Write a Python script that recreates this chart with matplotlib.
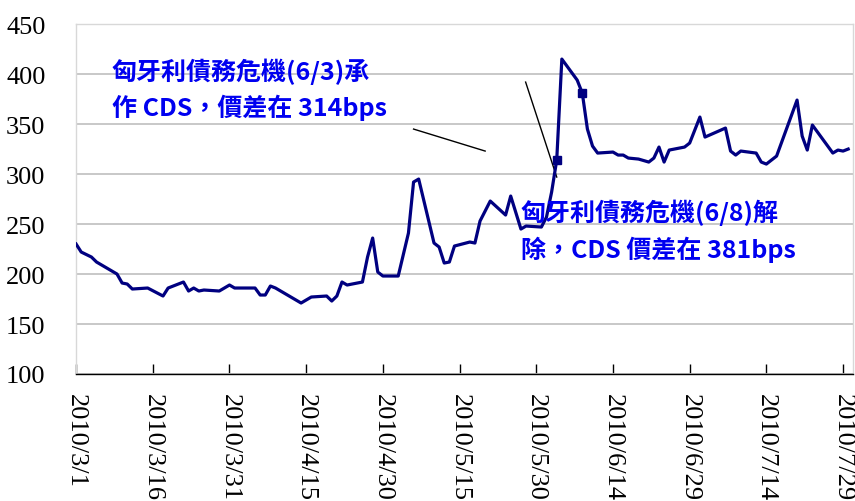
"""
Hungary CDS spread, 2010/3/1 - 2010/7/30, with two annotated crisis events.
"""

import datetime as dt

import matplotlib
matplotlib.use("Agg")
import matplotlib.pyplot as plt

LINE_COLOR = "#000080"
TEXT_COLOR = "#0000F0"
CJK_FONT = ["Noto Sans CJK TC", "DejaVu Sans"]

# vertices (date, spread in bps)
DATES = [
    "2010-03-01", "2010-03-02", "2010-03-04", "2010-03-05", "2010-03-09",
    "2010-03-10", "2010-03-11", "2010-03-12", "2010-03-15", "2010-03-18",
    "2010-03-19", "2010-03-22", "2010-03-23", "2010-03-24", "2010-03-25",
    "2010-03-26", "2010-03-29", "2010-03-31", "2010-04-01", "2010-04-05",
    "2010-04-06", "2010-04-07", "2010-04-08", "2010-04-09", "2010-04-14",
    "2010-04-16", "2010-04-19", "2010-04-20", "2010-04-21", "2010-04-22",
    "2010-04-23", "2010-04-26", "2010-04-27", "2010-04-28", "2010-04-29",
    "2010-04-30", "2010-05-03", "2010-05-05", "2010-05-06", "2010-05-07",
    "2010-05-10", "2010-05-11", "2010-05-12", "2010-05-13", "2010-05-14",
    "2010-05-17", "2010-05-18", "2010-05-19", "2010-05-21", "2010-05-24",
    "2010-05-25", "2010-05-27", "2010-05-28", "2010-05-31", "2010-06-01",
    "2010-06-02", "2010-06-03", "2010-06-04", "2010-06-07", "2010-06-08",
    "2010-06-09", "2010-06-10", "2010-06-11", "2010-06-14", "2010-06-15",
    "2010-06-16", "2010-06-17", "2010-06-19", "2010-06-21", "2010-06-22",
    "2010-06-23", "2010-06-24", "2010-06-25", "2010-06-28", "2010-06-29",
    "2010-07-01", "2010-07-02", "2010-07-06", "2010-07-07", "2010-07-08",
    "2010-07-09", "2010-07-12", "2010-07-13", "2010-07-14", "2010-07-16",
    "2010-07-20", "2010-07-21", "2010-07-22", "2010-07-23", "2010-07-27",
    "2010-07-28", "2010-07-29", "2010-07-30",
]
SPREAD = [
    230, 222, 217, 212, 200,
    191, 190, 185, 186, 178,
    186, 192, 183, 186, 183,
    184, 183, 189, 186, 186,
    179, 179, 188, 186, 171,
    177, 178, 173, 178, 192,
    189, 192, 217, 236, 202,
    198, 198, 241, 292, 295,
    231, 227, 211, 212, 228,
    232, 231, 253, 273, 259,
    278, 245, 248, 247, 257,
    282, 314, 415, 394, 381,
    345, 328, 321, 322, 319,
    319, 316, 315, 312, 316,
    327, 312, 324, 327, 331,
    357, 337, 346, 323, 319,
    323, 321, 312, 310, 318,
    374, 338, 324, 349, 321,
    324, 323, 325,
]

MARKED_DATES = ["2010-06-03", "2010-06-08"]
MARKED_SPREAD = [314, 381]

TICK_DATES = [
    "2010-03-01", "2010-03-16", "2010-03-31", "2010-04-15", "2010-04-30",
    "2010-05-15", "2010-05-30", "2010-06-14", "2010-06-29", "2010-07-14",
    "2010-07-29",
]
TICK_LABELS = [
    "2010/3/1", "2010/3/16", "2010/3/31", "2010/4/15", "2010/4/30",
    "2010/5/15", "2010/5/30", "2010/6/14", "2010/6/29", "2010/7/14",
    "2010/7/29",
]
Y_TICKS = [100, 150, 200, 250, 300, 350, 400, 450]

NOTE_1 = ["匈牙利債務危機(6/3)承", "作 CDS，價差在 314bps"]
NOTE_2 = ["匈牙利債務危機(6/8)解", "除，CDS 價差在 381bps"]


def d(s):
    return dt.datetime.strptime(s, "%Y-%m-%d")


def main():
    fig = plt.figure(figsize=(8.55, 5.02), dpi=100)
    ax = fig.add_axes([0.089, 0.253, 0.909, 0.697])

    x = [d(s) for s in DATES]
    ax.plot(x, SPREAD, color=LINE_COLOR, linewidth=2.3, zorder=3)
    ax.plot([d(s) for s in MARKED_DATES], MARKED_SPREAD, linestyle="none",
            marker="s", markersize=6, color=LINE_COLOR, zorder=4)

    ax.set_ylim(100, 450)
    ax.set_yticks(Y_TICKS)
    ax.set_xlim(d("2010-03-01"), d("2010-07-31"))
    ax.set_xticks([d(s) for s in TICK_DATES])
    ax.set_xticklabels(TICK_LABELS, rotation=-90, va="top", ha="center")

    ax.grid(axis="y", color="#c4c4c4", linewidth=1.3, zorder=1)
    ax.set_axisbelow(True)
    for side in ("left", "right", "top"):
        ax.spines[side].set_color("#d8d8d8")
        ax.spines[side].set_linewidth(1.0)
    ax.spines["bottom"].set_color("black")
    ax.spines["bottom"].set_linewidth(1.0)

    ax.tick_params(axis="x", direction="in", length=7, width=1, pad=14,
                   labelsize=19)
    ax.tick_params(axis="y", length=0, pad=22, labelsize=19)
    for lab in ax.get_xticklabels() + ax.get_yticklabels():
        lab.set_fontfamily("Liberation Serif")

    # leader lines
    ax.plot([d("2010-05-06"), d("2010-05-20")], [345, 323],
            color="black", linewidth=1.0, zorder=2)
    ax.plot([d("2010-05-27") + dt.timedelta(hours=22), d("2010-06-03")],
            [392, 297], color="black", linewidth=1.0, zorder=2)

    # notes
    for line, y in zip(NOTE_1, [403, 367]):
        ax.text(d("2010-03-08"), y, line, color=TEXT_COLOR, fontsize=18,
                family=CJK_FONT, weight="bold", va="center", ha="left", zorder=5)
    for line, y in zip(NOTE_2, [262, 225]):
        ax.text(d("2010-05-27"), y, line, color=TEXT_COLOR, fontsize=18,
                family=CJK_FONT, weight="bold", va="center", ha="left", zorder=5)

    fig.savefig("out.png", dpi=100)
    plt.close(fig)


if __name__ == "__main__":
    main()
